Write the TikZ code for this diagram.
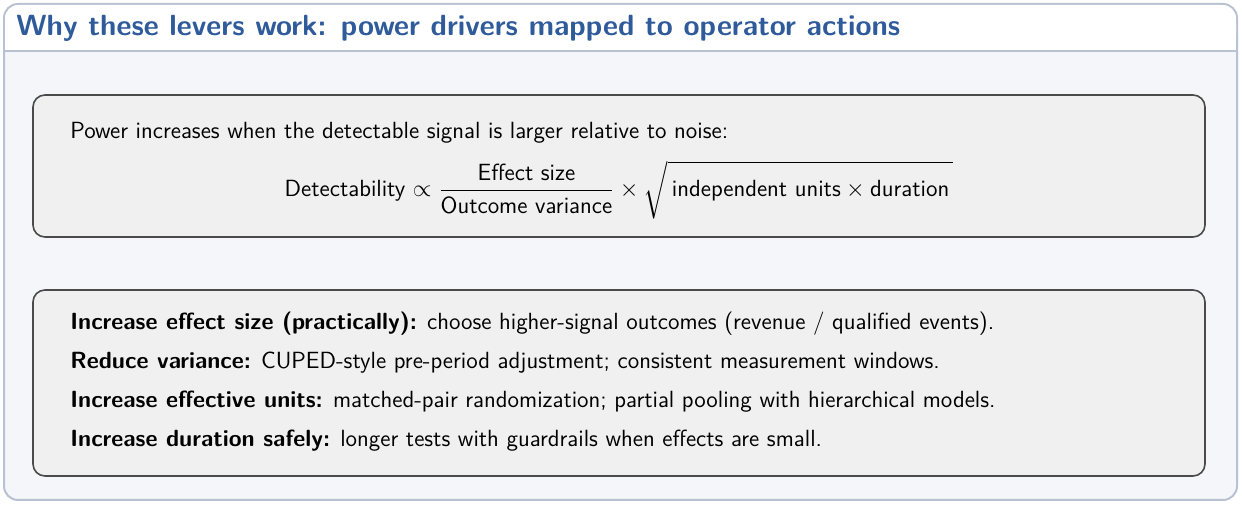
\documentclass[tikz,border=0pt]{standalone}
\usepackage{amsmath}
\usepackage{tikz}
\usetikzlibrary{positioning}
\renewcommand{\familydefault}{\sfdefault}
\definecolor{frameblue}{HTML}{B9C2D2}
\definecolor{titleblue}{HTML}{2F5B9B}
\definecolor{panelbg}{HTML}{F4F6FA}
\definecolor{boxbg}{HTML}{F0F0F0}
\definecolor{boxline}{HTML}{4A4A4A}

\begin{document}
\begin{tikzpicture}[
    x=0.5pt, y=-0.5pt,
    panel/.style={draw=boxline, line width=0.8pt, rounded corners=6pt, fill=boxbg},
    leverline/.style={anchor=west, font=\fontsize{11.7}{14}\selectfont, inner sep=0pt}
]
\useasboundingbox (0,0) rectangle (1242,506);

% Outer frame and title band
\draw[frameblue, line width=1pt, rounded corners=7pt, fill=panelbg] (4,4) rectangle (1237,500);
\fill[white, rounded corners=7pt] (5,5) rectangle (1236,51);
\fill[white] (5,30) rectangle (1236,51);
\draw[frameblue, line width=0.6pt] (5,51) -- (1236,51);
\node[anchor=west, text=titleblue, font=\fontsize{14.6}{17}\selectfont\bfseries, inner sep=0pt] (title) at (16,28)
    {Why these levers work: power drivers mapped to operator actions};

% Formula box
\draw[panel] (33,95) rectangle (1205,237);
\node[leverline] (intro) at (70,133) {Power increases when the detectable signal is larger relative to noise:};
\node[font=\fontsize{11.7}{14}\selectfont, inner sep=0pt] (formula) at (619,190)
    {Detectability $\propto \dfrac{\text{Effect size}}{\text{Outcome variance}} \times \sqrt{\vphantom{\dfrac{a}{b}}\,\text{independent units} \times \text{duration}\,}$};

% Lever box
\draw[panel] (33,290) rectangle (1205,476);
\node[leverline] (l1) at (70,324) {\textbf{Increase effect size (practically):} choose higher-signal outcomes (revenue / qualified events).};
\node[leverline] (l2) at (70,363) {\textbf{Reduce variance:} CUPED-style pre-period adjustment; consistent measurement windows.};
\node[leverline] (l3) at (70,402) {\textbf{Increase effective units:} matched-pair randomization; partial pooling with hierarchical models.};
\node[leverline] (l4) at (70,441) {\textbf{Increase duration safely:} longer tests with guardrails when effects are small.};

\end{tikzpicture}
\end{document}
